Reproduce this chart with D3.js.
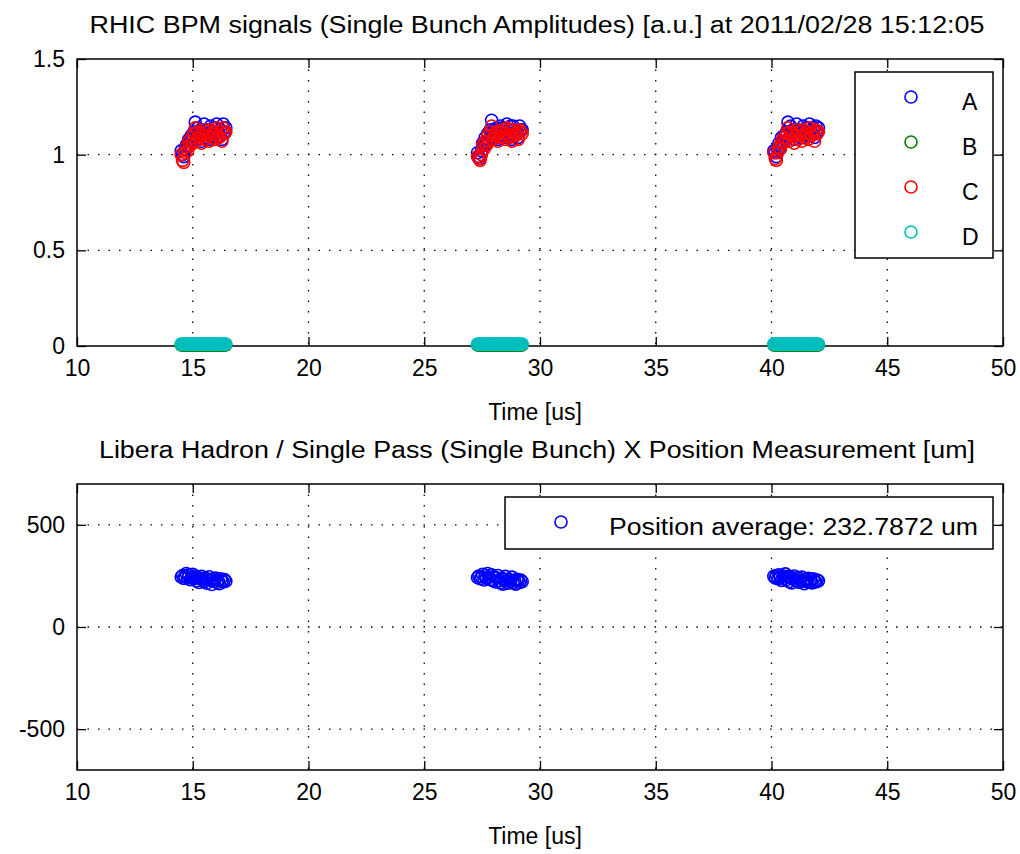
<!DOCTYPE html>
<html>
<head>
<meta charset="utf-8">
<script src="https://cdn.jsdelivr.net/npm/d3@7"></script>
<style>
  body { margin: 0; background: #fff; }
  text { font-family: "Liberation Sans", Arial, sans-serif; fill: #000; }
</style>
</head>
<body>
<svg id="chart"></svg>
<script>
// bunch times [us], three turns
const times = [
  14.50, 14.56, 14.61, 14.67, 14.72, 14.78, 14.83, 14.89, 14.94, 15.00, 15.05, 15.11, 15.16, 15.22, 15.27, 15.33, 15.38, 15.44,
  15.49, 15.55, 15.60, 15.66, 15.71, 15.77, 15.82, 15.88, 15.93, 15.99, 16.04, 16.10, 16.15, 16.21, 16.26, 16.32, 16.37, 16.43,
  27.30, 27.36, 27.41, 27.47, 27.52, 27.58, 27.63, 27.69, 27.74, 27.80, 27.85, 27.91, 27.96, 28.02, 28.07, 28.13, 28.18, 28.24,
  28.29, 28.35, 28.40, 28.46, 28.51, 28.57, 28.62, 28.68, 28.73, 28.79, 28.84, 28.90, 28.95, 29.01, 29.06, 29.12, 29.17, 29.23,
  40.10, 40.16, 40.21, 40.27, 40.32, 40.38, 40.43, 40.49, 40.54, 40.60, 40.65, 40.71, 40.76, 40.82, 40.87, 40.93, 40.98, 41.04,
  41.09, 41.15, 41.20, 41.26, 41.31, 41.37, 41.42, 41.48, 41.53, 41.59, 41.64, 41.70, 41.75, 41.81, 41.86, 41.92, 41.97, 42.03
]
const ampA = [
  1.02, 1.00, 0.99, 1.03, 1.05, 1.04, 1.08, 1.07, 1.10, 1.09, 1.12, 1.17, 1.08, 1.14, 1.10, 1.13, 1.07, 1.11,
  1.16, 1.09, 1.13, 1.11, 1.08, 1.15, 1.12, 1.10, 1.14, 1.09, 1.16, 1.12, 1.10, 1.13, 1.08, 1.16, 1.12, 1.14,
  1.01, 0.99, 0.98, 1.02, 1.06, 1.05, 1.09, 1.06, 1.11, 1.08, 1.13, 1.18, 1.09, 1.13, 1.11, 1.14, 1.08, 1.10,
  1.15, 1.10, 1.14, 1.12, 1.09, 1.16, 1.11, 1.10, 1.15, 1.08, 1.15, 1.13, 1.11, 1.12, 1.09, 1.15, 1.13, 1.13,
  1.02, 1.01, 0.99, 1.03, 1.06, 1.04, 1.09, 1.07, 1.10, 1.10, 1.12, 1.17, 1.09, 1.15, 1.11, 1.13, 1.08, 1.12,
  1.16, 1.10, 1.13, 1.12, 1.09, 1.15, 1.12, 1.11, 1.14, 1.10, 1.16, 1.12, 1.11, 1.14, 1.09, 1.15, 1.12, 1.14
]
const ampB = [
  0.006, 0.006, 0.006, 0.006, 0.006, 0.006, 0.006, 0.006, 0.006, 0.006, 0.006, 0.006, 0.006, 0.006, 0.006, 0.006, 0.006, 0.006,
  0.006, 0.006, 0.006, 0.006, 0.006, 0.006, 0.006, 0.006, 0.006, 0.006, 0.006, 0.006, 0.006, 0.006, 0.006, 0.006, 0.006, 0.006,
  0.006, 0.006, 0.006, 0.006, 0.006, 0.006, 0.006, 0.006, 0.006, 0.006, 0.006, 0.006, 0.006, 0.006, 0.006, 0.006, 0.006, 0.006,
  0.006, 0.006, 0.006, 0.006, 0.006, 0.006, 0.006, 0.006, 0.006, 0.006, 0.006, 0.006, 0.006, 0.006, 0.006, 0.006, 0.006, 0.006,
  0.006, 0.006, 0.006, 0.006, 0.006, 0.006, 0.006, 0.006, 0.006, 0.006, 0.006, 0.006, 0.006, 0.006, 0.006, 0.006, 0.006, 0.006,
  0.006, 0.006, 0.006, 0.006, 0.006, 0.006, 0.006, 0.006, 0.006, 0.006, 0.006, 0.006, 0.006, 0.006, 0.006, 0.006, 0.006, 0.006
]
const ampC = [
  1.00, 0.97, 0.96, 1.01, 1.04, 1.02, 1.07, 1.05, 1.09, 1.06, 1.11, 1.14, 1.07, 1.12, 1.09, 1.11, 1.06, 1.10,
  1.13, 1.08, 1.12, 1.10, 1.07, 1.13, 1.11, 1.09, 1.12, 1.08, 1.14, 1.10, 1.09, 1.12, 1.07, 1.14, 1.11, 1.12,
  0.99, 0.98, 0.97, 1.00, 1.05, 1.03, 1.07, 1.05, 1.10, 1.07, 1.12, 1.15, 1.08, 1.11, 1.10, 1.12, 1.07, 1.09,
  1.12, 1.09, 1.13, 1.11, 1.08, 1.14, 1.10, 1.09, 1.13, 1.07, 1.13, 1.11, 1.10, 1.11, 1.08, 1.13, 1.12, 1.11,
  1.01, 0.98, 0.97, 1.01, 1.04, 1.03, 1.07, 1.06, 1.09, 1.07, 1.11, 1.14, 1.07, 1.12, 1.10, 1.11, 1.06, 1.10,
  1.13, 1.08, 1.12, 1.10, 1.07, 1.13, 1.11, 1.09, 1.12, 1.08, 1.14, 1.11, 1.10, 1.12, 1.07, 1.13, 1.11, 1.12
]
const ampD = [
  0.01, 0.01, 0.01, 0.01, 0.01, 0.01, 0.01, 0.01, 0.01, 0.01, 0.01, 0.01, 0.01, 0.01, 0.01, 0.01, 0.01, 0.01,
  0.01, 0.01, 0.01, 0.01, 0.01, 0.01, 0.01, 0.01, 0.01, 0.01, 0.01, 0.01, 0.01, 0.01, 0.01, 0.01, 0.01, 0.01,
  0.01, 0.01, 0.01, 0.01, 0.01, 0.01, 0.01, 0.01, 0.01, 0.01, 0.01, 0.01, 0.01, 0.01, 0.01, 0.01, 0.01, 0.01,
  0.01, 0.01, 0.01, 0.01, 0.01, 0.01, 0.01, 0.01, 0.01, 0.01, 0.01, 0.01, 0.01, 0.01, 0.01, 0.01, 0.01, 0.01,
  0.01, 0.01, 0.01, 0.01, 0.01, 0.01, 0.01, 0.01, 0.01, 0.01, 0.01, 0.01, 0.01, 0.01, 0.01, 0.01, 0.01, 0.01,
  0.01, 0.01, 0.01, 0.01, 0.01, 0.01, 0.01, 0.01, 0.01, 0.01, 0.01, 0.01, 0.01, 0.01, 0.01, 0.01, 0.01, 0.01
]
// x position [um]
const posX = [
  245, 252, 238, 248, 262, 240, 255, 232, 244, 258, 236, 250, 226, 242, 218, 236, 248, 230,
  222, 240, 214, 232, 246, 228, 208, 236, 224, 240, 218, 230, 212, 236, 226, 220, 232, 224,
  242, 250, 236, 246, 258, 230, 252, 238, 262, 244, 232, 256, 228, 246, 220, 240, 252, 226,
  216, 238, 210, 234, 248, 226, 214, 232, 222, 244, 216, 228, 210, 234, 228, 218, 230, 222,
  248, 240, 252, 236, 256, 244, 228, 250, 238, 260, 232, 248, 222, 244, 216, 238, 250, 228,
  224, 242, 218, 230, 244, 226, 212, 234, 222, 238, 220, 232, 216, 236, 224, 220, 230, 226
]

const xTicks = [10, 15, 20, 25, 30, 35, 40, 45, 50]
const yTicksTop = [0, 0.5, 1, 1.5]
const yTicksBot = [-500, 0, 500]
const seriesNames = ['A', 'B', 'C', 'D']
const seriesColors = ['#0000ff', '#008000', '#ff0000', '#00bfbf']
const topTitle = 'RHIC BPM signals (Single Bunch Amplitudes) [a.u.] at 2011/02/28 15:12:05'
const botTitle = 'Libera Hadron / Single Pass (Single Bunch) X Position Measurement [um]'
const botLegend = 'Position average: 232.7872 um'

const svg = d3.select('#chart')
  .attr('width', 1020)
  .attr('height', 854)

svg.append('rect').attr('width', 1020).attr('height', 854).attr('fill', '#fff')

const left = 77, right = 1003
const fs = 23
const r = 6
const sw = 1.6

function axesPanel(top, bottom, yDomain, yTicks, title, tLen){
  const x = d3.scaleLinear().domain([10, 50]).range([left, right])
  const y = d3.scaleLinear().domain(yDomain).range([bottom, top])
  const g = svg.append('g')

  g.append('rect')
    .attr('x', left).attr('y', top)
    .attr('width', right - left).attr('height', bottom - top)
    .attr('fill', '#fff')

  // dotted grid
  g.selectAll('.gx').data(xTicks.slice(1, -1)).enter().append('line')
    .attr('x1', d => x(d)).attr('x2', d => x(d))
    .attr('y1', top).attr('y2', bottom)
    .attr('stroke', '#000').attr('stroke-width', 1.3)
    .attr('stroke-dasharray', '1.5,9')
  g.selectAll('.gy').data(yTicks.filter(d => y(d) > top + 1 && y(d) < bottom - 1)).enter().append('line')
    .attr('x1', left).attr('x2', right)
    .attr('y1', d => y(d)).attr('y2', d => y(d))
    .attr('stroke', '#000').attr('stroke-width', 1.3)
    .attr('stroke-dasharray', '1.5,9')

  // axes, ticks inward
  const fmt = d => String(d)
  const ax = [
    d3.axisBottom(x).tickValues(xTicks).tickSizeInner(-9).tickSizeOuter(0).tickPadding(14).tickFormat(fmt),
    d3.axisTop(x).tickValues(xTicks).tickSizeInner(-9).tickSizeOuter(0).tickFormat(''),
    d3.axisLeft(y).tickValues(yTicks).tickSizeInner(-9).tickSizeOuter(0).tickPadding(12).tickFormat(fmt),
    d3.axisRight(y).tickValues(yTicks).tickSizeInner(-9).tickSizeOuter(0).tickFormat('')
  ]
  const pos = [`translate(0,${bottom})`, `translate(0,${top})`, `translate(${left},0)`, `translate(${right},0)`]
  ax.forEach((a, i) => {
    const ag = g.append('g').attr('transform', pos[i]).call(a)
    ag.select('.domain').remove()
    ag.selectAll('line').attr('stroke', '#000').attr('stroke-width', 1.3)
    ag.selectAll('text').attr('font-size', fs).attr('fill', '#000')
      .attr('font-family', '"Liberation Sans", Arial, sans-serif')
  })

  g.append('rect')
    .attr('x', left).attr('y', top)
    .attr('width', right - left).attr('height', bottom - top)
    .attr('fill', 'none').attr('stroke', '#000').attr('stroke-width', 1.5)

  g.append('text')
    .attr('x', (left + right) / 2 - 3).attr('y', top - 26)
    .attr('text-anchor', 'middle').attr('font-size', fs)
    .attr('textLength', tLen).attr('lengthAdjust', 'spacingAndGlyphs')
    .text(title)

  g.append('text')
    .attr('x', (left + right) / 2 - 5).attr('y', bottom + 74)
    .attr('text-anchor', 'middle').attr('font-size', fs)
    .text('Time [us]')

  return {x, y, g}
}

// top panel
const p1 = axesPanel(59, 346, [0, 1.5], yTicksTop, topTitle, 895)
const amps = [ampA, ampB, ampC, ampD]
amps.forEach((vals, k) => {
  p1.g.append('g').selectAll('circle')
    .data(times.map((t, i) => ({t, v: vals[i]})))
    .enter().append('circle')
    .attr('cx', d => p1.x(d.t)).attr('cy', d => p1.y(d.v)).attr('r', r)
    .attr('fill', 'none').attr('stroke', seriesColors[k]).attr('stroke-width', sw)
})

// top legend
const lg1 = p1.g.append('g')
lg1.append('rect').attr('x', 855).attr('y', 72).attr('width', 138).attr('height', 186)
  .attr('fill', '#fff').attr('stroke', '#000').attr('stroke-width', 1.5)
seriesNames.forEach((n, i) => {
  const cy = 97 + i * 45
  lg1.append('circle').attr('cx', 911).attr('cy', cy).attr('r', r)
    .attr('fill', 'none').attr('stroke', seriesColors[i]).attr('stroke-width', sw)
  lg1.append('text').attr('x', 962).attr('y', cy + 13).attr('font-size', fs).text(n)
})

// bottom panel
const p2 = axesPanel(484, 770, [-700, 700], yTicksBot, botTitle, 876)
p2.g.append('g').selectAll('circle')
  .data(times.map((t, i) => ({t, v: posX[i]})))
  .enter().append('circle')
  .attr('cx', d => p2.x(d.t)).attr('cy', d => p2.y(d.v)).attr('r', r)
  .attr('fill', 'none').attr('stroke', '#0000ff').attr('stroke-width', sw)

const lg2 = p2.g.append('g')
lg2.append('rect').attr('x', 505).attr('y', 497).attr('width', 488).attr('height', 52)
  .attr('fill', '#fff').attr('stroke', '#000').attr('stroke-width', 1.5)
lg2.append('circle').attr('cx', 561).attr('cy', 522).attr('r', r)
  .attr('fill', 'none').attr('stroke', '#0000ff').attr('stroke-width', sw)
lg2.append('text').attr('x', 609).attr('y', 535).attr('font-size', fs)
  .attr('textLength', 369).attr('lengthAdjust', 'spacingAndGlyphs')
  .text(botLegend)
</script>
</body>
</html>
